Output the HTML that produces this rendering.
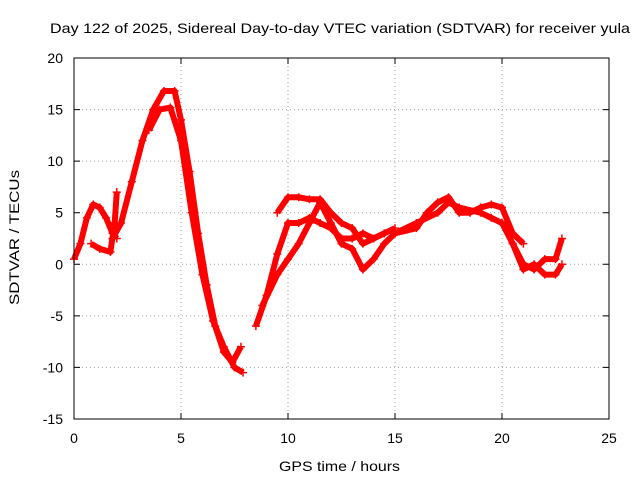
<!DOCTYPE html>
<html><head><meta charset="utf-8"><style>
body{margin:0;background:#fff}
svg text{font-family:"Liberation Sans",sans-serif;font-size:14px;fill:#000}
</style></head><body>
<svg id="chart" width="640" height="480" xmlns="http://www.w3.org/2000/svg">
<text x="50" y="33" textLength="580" lengthAdjust="spacingAndGlyphs">Day 122 of 2025, Sidereal Day-to-day VTEC variation (SDTVAR) for receiver yula</text>
<text x="279" y="471" textLength="121" lengthAdjust="spacingAndGlyphs">GPS time / hours</text>
<text transform="translate(19,305) rotate(-90)" textLength="135" lengthAdjust="spacingAndGlyphs">SDTVAR / TECUs</text>
<g id="grid"></g><g id="series"></g>
<rect x="74" y="58" width="535" height="361" fill="none" stroke="#000"/>
</svg>
<script>
const xTicks=[0,5,10,15,20,25];
const yTicks=[-15,-10,-5,0,5,10,15,20];
const track1T=[0,0.3,0.6,0.9,1.2,1.5,1.8,2.0];
const track1V=[0.5,2,4.5,5.8,5.5,4.5,3,2.5];
const track2T=[0.8,1.2,1.7,1.9,2.0];
const track2V=[2,1.5,1.2,4,7];
const track3T=[1.8,2.2,2.7,3.2,3.7,4.2,4.7,5.0,5.4,5.8,6.2,6.6,7.0,7.4,7.8];
const track3V=[2.5,4,8,12,15,16.8,16.8,14,9,3,-2,-6,-8.5,-9.5,-8];
const track4T=[3.5,4.0,4.5,5.0,5.5,6.0,6.5,7.0,7.5,7.9];
const track4V=[13,15,15.2,12,5,-1,-5.5,-8,-10,-10.5];
const track5T=[8.5,9,9.5,10,10.5,11,11.5,12,12.5,13,13.5,14,14.5,15];
const track5V=[-6,-3,1,4,4,4.5,4,3.5,2.5,2.5,3,2.5,3,3.5];
const track6T=[9.5,10,10.5,11,11.5,12,12.5,13,13.5,14,14.5];
const track6V=[5,6.5,6.5,6.3,6.3,5,4,3.5,2,2.5,3];
const track7T=[8.8,9.5,10,10.5,11,11.5,12,12.5,13,13.5,14,14.5,15];
const track7V=[-4,-1,0.5,2,4,6,4,2,1.5,-0.5,0.5,2,3];
const track8T=[15,16,16.5,17,17.5,18,18.5,19,19.5,20,20.5,21];
const track8V=[3,3.5,5,6,6.5,5,5,5.5,5.8,5.5,3,2];
const track9T=[15,16,17,17.5,18,19,19.5,20,20.5,21,21.5,22,22.5,22.8];
const track9V=[3,4,5,6,5.5,5,4.5,4,2,0,-0.5,0.5,0.5,2.5];
const track10T=[20.5,21,21.5,22,22.5,22.8];
const track10V=[2,-0.5,0,-1,-1,0];
const tracksT=[track1T,track2T,track3T,track4T,track5T,track6T,track7T,track8T,track9T,track10T];
const tracksV=[track1V,track2V,track3V,track4V,track5V,track6V,track7V,track8V,track9V,track10V];
const X=t=>74+t*(535/25);
const Y=v=>419-(v+15)*(361/35);
const NS="http://www.w3.org/2000/svg";
const grid=document.getElementById('grid');
xTicks.forEach(t=>{
 if(t>0&&t<25){const l=document.createElementNS(NS,'line');l.setAttribute('x1',X(t));l.setAttribute('x2',X(t));l.setAttribute('y1',58);l.setAttribute('y2',419);l.setAttribute('stroke','#a0a0a0');l.setAttribute('stroke-dasharray','1,3');
 
 grid.appendChild(l);}
 const tk=document.createElementNS(NS,'path');tk.setAttribute('d',`M${X(t)},419v-6M${X(t)},58v6`);tk.setAttribute('stroke','#000');
 
 grid.appendChild(tk);
 const tx=document.createElementNS(NS,'text');tx.setAttribute('x',X(t));tx.setAttribute('y',443);tx.setAttribute('text-anchor','middle');tx.textContent=t;
 
 grid.appendChild(tx);
});
yTicks.forEach(v=>{
 if(v>-15&&v<20){const l=document.createElementNS(NS,'line');l.setAttribute('x1',74);l.setAttribute('x2',609);l.setAttribute('y1',Y(v));l.setAttribute('y2',Y(v));l.setAttribute('stroke','#a0a0a0');l.setAttribute('stroke-dasharray','1,3');
 
 grid.appendChild(l);}
 const tk=document.createElementNS(NS,'path');tk.setAttribute('d',`M74,${Y(v)}h6M609,${Y(v)}h-6`);tk.setAttribute('stroke','#000');
 
 grid.appendChild(tk);
 const tx=document.createElementNS(NS,'text');tx.setAttribute('x',63);tx.setAttribute('y',Y(v)+5);tx.setAttribute('text-anchor','end');tx.textContent=v;
 
 grid.appendChild(tx);
});
const ser=document.getElementById('series');
tracksT.forEach((ts,i)=>{
 const vs=tracksV[i];
 const p=document.createElementNS(NS,'polyline');
 p.setAttribute('points',ts.map((t,j)=>X(t)+','+Y(vs[j])).join(' '));
 p.setAttribute('fill','none');p.setAttribute('stroke','#ff0000');p.setAttribute('stroke-width','6');p.setAttribute('stroke-linejoin','round');
 
 
 ser.appendChild(p);
 ts.forEach((t,j)=>{
  const m=document.createElementNS(NS,'path');const x=X(t),y=Y(vs[j]);
  m.setAttribute('d',`M${x-4},${y}H${x+4}M${x},${y-4}V${y+4}`);m.setAttribute('stroke','#ff0000');m.setAttribute('stroke-width','1.5');
  
  
  ser.appendChild(m);
 });
});
</script>
</body></html>
